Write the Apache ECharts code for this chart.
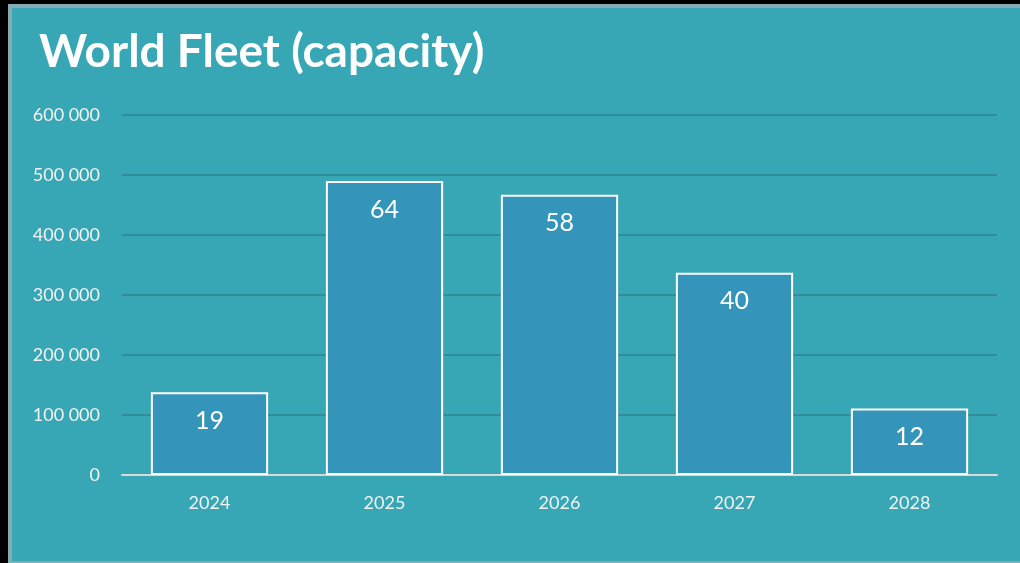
<!DOCTYPE html>
<html>
<head>
<meta charset="utf-8">
<script src="https://cdn.jsdelivr.net/npm/echarts@6/dist/echarts.min.js"></script>
<style>
  html, body { margin: 0; padding: 0; width: 1020px; height: 563px; background: #000; overflow: hidden; }
  #panel {
    position: absolute; left: 8px; top: 4px; width: 1008px; height: 553px;
    background: #37A7B5;
    border-left: 4px solid #86ACB3; border-top: 4px solid #86ACB3; border-bottom: 2px solid #86ACB3;
  }
  #chart { position: absolute; left: 0; top: 0; width: 1020px; height: 563px; }
</style>
</head>
<body>
<div id="panel"></div>
<div id="chart"></div>
<script>
// Fleet capacity per delivery year, with the number of ships shown on each bar
const years = ['2024', '2025', '2026', '2027', '2028'];
const capacity = [138000, 490000, 467000, 337000, 111000];
const shipCount = [19, 64, 58, 40, 12];

const FONT = 'Lato, "Open Sans", sans-serif';

function spaced(v) {
  return String(v).replace(/\B(?=(\d{3})+(?!\d))/g, ' ');
}

const chart = echarts.init(document.getElementById('chart'), null, { renderer: 'canvas' });
chart.setOption({
  backgroundColor: 'transparent',
  animation: false,
  title: {
    text: 'World Fleet (capacity)',
    left: 34, top: 24,
    textStyle: { color: '#FFFFFF', fontFamily: FONT, fontWeight: 'bold', fontSize: 46 }
  },
  grid: { left: 122, right: 23, top: 115, bottom: 88 },
  xAxis: {
    type: 'category',
    data: years,
    axisTick: { show: false },
    axisLine: { lineStyle: { color: '#D9D9D9', width: 2 } },
    axisLabel: { color: '#F2F2F2', fontFamily: FONT, fontSize: 18, margin: 19 }
  },
  yAxis: {
    type: 'value',
    min: 0, max: 600000, interval: 100000,
    axisLine: { show: false },
    axisTick: { show: false },
    splitLine: { lineStyle: { color: '#2E8F99', width: 2 } },
    axisLabel: { color: '#F2F2F2', fontFamily: FONT, fontSize: 18, margin: 22, formatter: spaced }
  },
  series: [{
    type: 'bar',
    data: capacity,
    barWidth: '67%',
    itemStyle: { color: '#3494B9', borderColor: '#FFFFFF', borderWidth: 2 },
    label: {
      show: true,
      position: 'insideTop',
      distance: 16,
      color: '#FFFFFF',
      fontFamily: FONT,
      fontSize: 25,
      formatter: p => String(shipCount[p.dataIndex])
    }
  }]
});
</script>
</body>
</html>
